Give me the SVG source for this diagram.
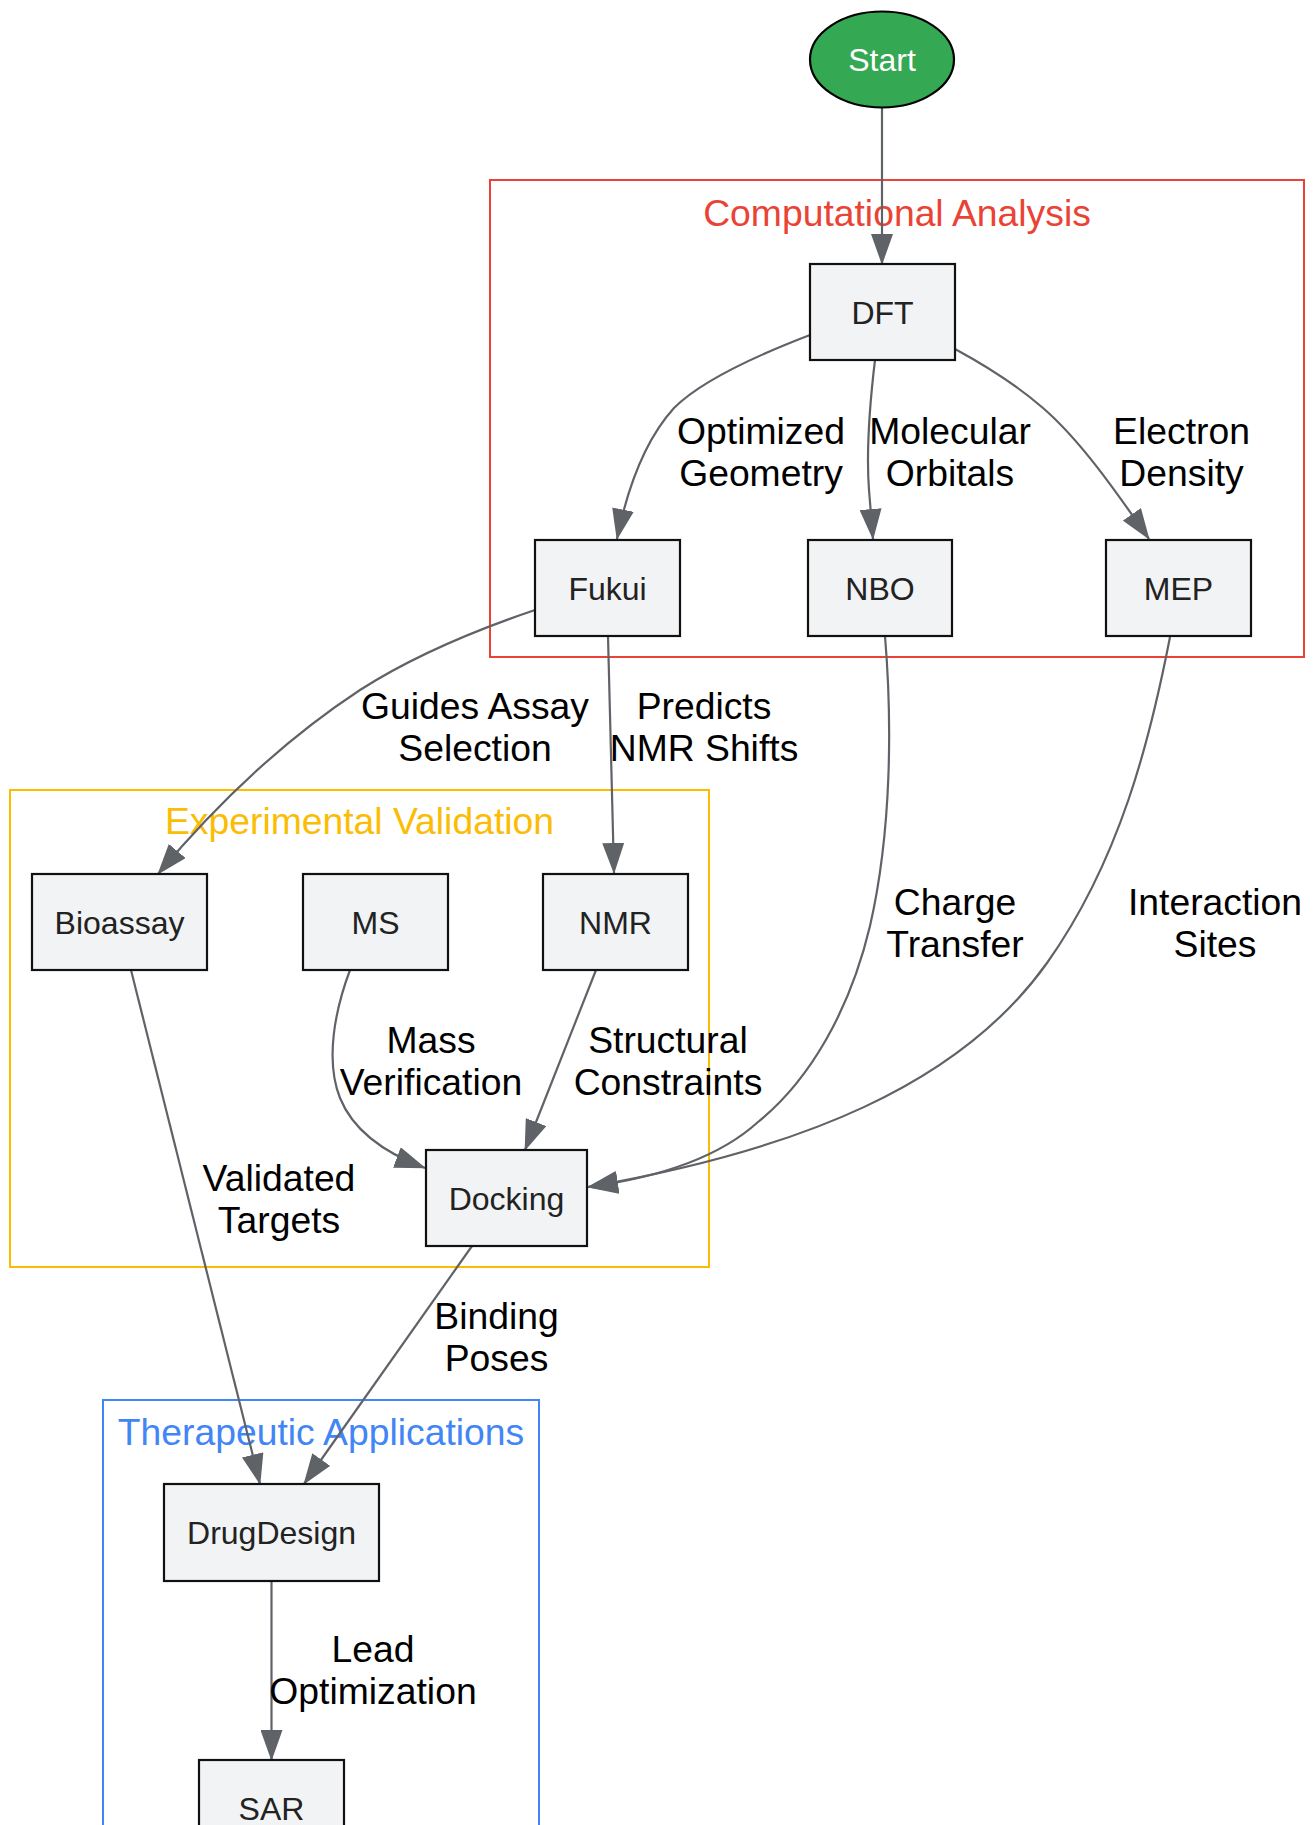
<svg xmlns="http://www.w3.org/2000/svg" width="1313" height="1825" viewBox="0 0 1313 1825">
<defs>
<style>
.cl{fill:none;stroke-width:2}
.clt{font-family:"Liberation Sans",Arial,sans-serif;font-size:37.3px;text-anchor:middle}
.n rect{fill:#f1f3f4;stroke:#111;stroke-width:2.2}
.n text{font-family:"Liberation Sans",Arial,sans-serif;font-size:32px;fill:#222;text-anchor:middle}
.e path{fill:none;stroke:#5f6368;stroke-width:2.2;marker-end:url(#ah)}
.lb text{font-family:"Liberation Sans",Arial,sans-serif;font-size:37.3px;fill:#000;text-anchor:middle}
</style>
<marker id="ah" markerUnits="userSpaceOnUse" markerWidth="31" markerHeight="22" viewBox="0 0 31 22" refX="30" refY="11" orient="auto">
<path d="M0,0 L31,11 L0,22 z" fill="#5f6368"/>
</marker>
</defs>
<rect width="1313" height="1825" fill="#fff"/>
<g id="clusters">
<g id="cluster-comp">
<rect class="cl" x="490" y="180" width="814" height="477" stroke="#ea4335"/>
<text class="clt" x="897" y="226" fill="#ea4335">Computational Analysis</text>
</g>
<g id="cluster-exp">
<rect class="cl" x="10" y="790" width="699" height="477" stroke="#fbbc04"/>
<text class="clt" x="359.5" y="834" fill="#fbbc04">Experimental Validation</text>
</g>
<g id="cluster-ther">
<rect class="cl" x="103" y="1400" width="436" height="600" stroke="#4285f4"/>
<text class="clt" x="321" y="1445" fill="#4285f4">Therapeutic Applications</text>
</g>
</g>
<g id="edges" class="e">
<path d="M882,108 L882,264"/>
<path d="M810,335 C750,358 700,382 674,408 C645,440 627,490 617,539"/>
<path d="M875,360 C869,410 866,450 869,490 L873,539"/>
<path d="M955,349 C990,368 1020,388 1043,408 C1080,440 1115,490 1149,539"/>
<path d="M535,610 C470,632 410,658 360,690 C290,736 220,800 158,874"/>
<path d="M608,636 L614,873"/>
<path d="M885,636 C892,720 892,830 870,926 C850,1010 810,1080 758,1122 C725,1152 670,1176 588,1187"/>
<path d="M1170,637 C1150,740 1120,860 1047,963 C960,1085 800,1150 588,1187"/>
<path d="M350,970 C335,1010 325,1060 340,1098 C355,1135 390,1155 425,1168"/>
<path d="M596,970 L525,1150"/>
<path d="M131,970 L260,1484"/>
<path d="M472,1246 L304,1484"/>
<path d="M271.5,1581 L271.5,1760"/>
</g>
<g id="edge-labels" class="lb">
<text x="761" y="444">Optimized</text><text x="761" y="486">Geometry</text>
<text x="950" y="444">Molecular</text><text x="950" y="486">Orbitals</text>
<text x="1181.5" y="444">Electron</text><text x="1181.5" y="486">Density</text>
<text x="475" y="719">Guides Assay</text><text x="475" y="761">Selection</text>
<text x="704" y="719">Predicts</text><text x="704" y="761">NMR Shifts</text>
<text x="955" y="915">Charge</text><text x="955" y="957">Transfer</text>
<text x="1215" y="915">Interaction</text><text x="1215" y="957">Sites</text>
<text x="431" y="1053">Mass</text><text x="431" y="1095">Verification</text>
<text x="668" y="1053">Structural</text><text x="668" y="1095">Constraints</text>
<text x="279" y="1191">Validated</text><text x="279" y="1233">Targets</text>
<text x="496.5" y="1329">Binding</text><text x="496.5" y="1371">Poses</text>
<text x="373" y="1662">Lead</text><text x="373" y="1704">Optimization</text>
</g>
<g id="Start" class="n">
<ellipse cx="882" cy="59.5" rx="72" ry="48" fill="#34a853" stroke="#000" stroke-width="2.2"/>
<text x="882" y="71" style="fill:#fff">Start</text>
</g>
<g id="DFT" class="n"><rect x="810" y="264" width="145" height="96"/><text x="882.5" y="323.5">DFT</text></g>
<g id="Fukui" class="n"><rect x="535" y="540" width="145" height="96"/><text x="607.5" y="599.5">Fukui</text></g>
<g id="NBO" class="n"><rect x="808" y="540" width="144" height="96"/><text x="880" y="599.5">NBO</text></g>
<g id="MEP" class="n"><rect x="1106" y="540" width="145" height="96"/><text x="1178.5" y="599.5">MEP</text></g>
<g id="Bioassay" class="n"><rect x="32" y="874" width="175" height="96"/><text x="119.5" y="933.5">Bioassay</text></g>
<g id="MS" class="n"><rect x="303" y="874" width="145" height="96"/><text x="375.5" y="933.5">MS</text></g>
<g id="NMR" class="n"><rect x="543" y="874" width="145" height="96"/><text x="615.5" y="933.5">NMR</text></g>
<g id="Docking" class="n"><rect x="426" y="1150" width="161" height="96"/><text x="506.5" y="1209.5">Docking</text></g>
<g id="DrugDesign" class="n"><rect x="164" y="1484" width="215" height="97"/><text x="271.5" y="1544">DrugDesign</text></g>
<g id="SAR" class="n"><rect x="199" y="1760" width="145" height="96"/><text x="271.5" y="1819.5">SAR</text></g>
</svg>
